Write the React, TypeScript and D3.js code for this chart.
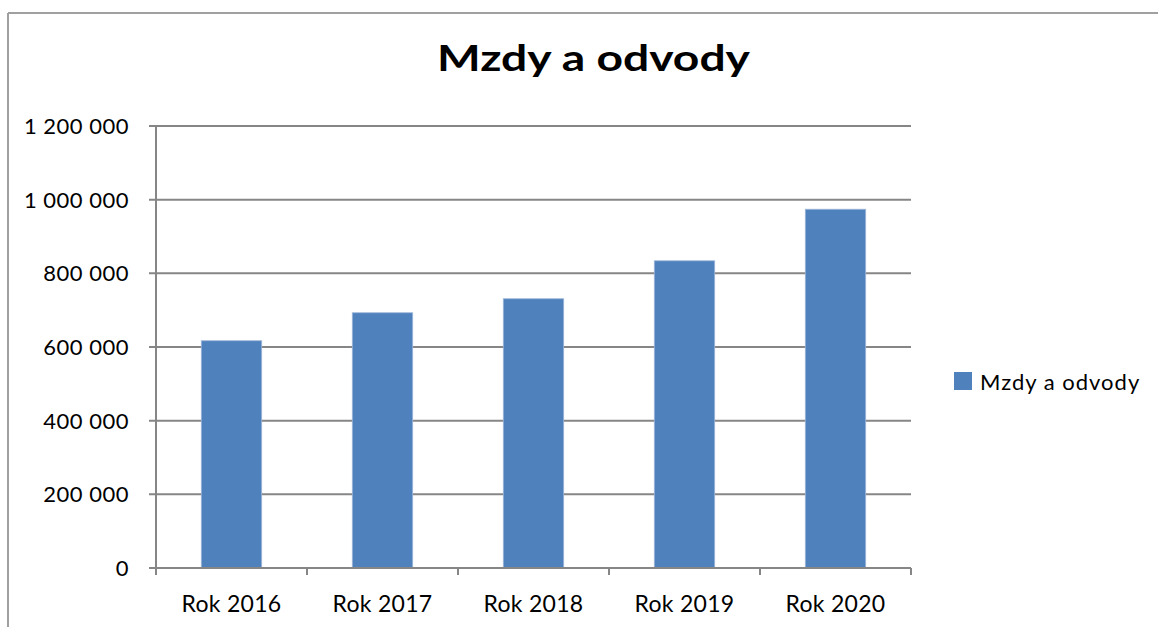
import { scaleBand, scaleLinear, formatLocale } from "d3";

const categories = ["Rok 2016", "Rok 2017", "Rok 2018", "Rok 2019", "Rok 2020"];
const values = [617000, 693000, 731000, 834000, 974000];
const yTicks = [0, 200000, 400000, 600000, 800000, 1000000, 1200000];
const seriesName = "Mzdy a odvody";
const title = "Mzdy a odvody";

const WIDTH = 1158;
const HEIGHT = 627;
const PLOT = { left: 156, right: 911, top: 126, bottom: 568 };
const FONT = "Lato, 'Open Sans', sans-serif";
const BAR = "#4F81BD";
const GRID = "#868686";

const fmt = formatLocale({ decimal: ",", thousands: " ", grouping: [3], currency: ["", ""] }).format(",d");

export default function App() {
  const xScale = scaleBand<string>()
    .domain(categories)
    .range([PLOT.left, PLOT.right])
    .paddingInner(0.6)
    .paddingOuter(0.3);
  const yScale = scaleLinear().domain([0, 1200000]).range([PLOT.bottom, PLOT.top]);
  const step = (PLOT.right - PLOT.left) / categories.length;

  return (
    <svg
      width={WIDTH}
      height={HEIGHT}
      style={{ position: "absolute", left: 0, top: 0, display: "block", background: "#fff" }}
      fontFamily={FONT}
    >
      {/* chart frame, only top and left edge visible */}
      <line x1={8} x2={WIDTH} y1={13} y2={13} stroke="#a0a0a0" strokeWidth={2} />
      <line x1={8} x2={8} y1={13} y2={HEIGHT} stroke="#a0a0a0" strokeWidth={2} />

      {/* the original is stretched a bit wider, so the title is too */}
      <text
        x={593.5 - 313 / 2}
        y={71}
        fontSize={37}
        fontWeight={700}
        fill="#000"
        textLength={313}
        lengthAdjust="spacingAndGlyphs"
      >
        {title}
      </text>

      {/* gridlines + y labels */}
      {yTicks.map((t) => (
        <g key={t}>
          <line x1={PLOT.left - 7} x2={PLOT.right} y1={yScale(t)} y2={yScale(t)} stroke={GRID} strokeWidth={2} />
          <text x={129} y={yScale(t)} dy="0.36em" textAnchor="end" fontSize={22} letterSpacing={0.5} fill="#000">
            {fmt(t)}
          </text>
        </g>
      ))}

      {/* bars */}
      {categories.map((c, i) => (
        <rect
          key={c}
          x={xScale(c)}
          y={yScale(values[i])}
          width={xScale.bandwidth()}
          height={yScale(0) - yScale(values[i])}
          fill={BAR}
          stroke="#9cb6da"
          strokeWidth={0.8}
        />
      ))}

      {/* axes */}
      <line x1={PLOT.left} x2={PLOT.left} y1={PLOT.top} y2={PLOT.bottom + 7} stroke={GRID} strokeWidth={2} />
      <line x1={PLOT.left} x2={PLOT.right} y1={PLOT.bottom} y2={PLOT.bottom} stroke={GRID} strokeWidth={2} />
      {categories.map((c, i) => (
        <line
          key={"t" + c}
          x1={PLOT.left + step * (i + 1)}
          x2={PLOT.left + step * (i + 1)}
          y1={PLOT.bottom}
          y2={PLOT.bottom + 7}
          stroke={GRID}
          strokeWidth={2}
        />
      ))}
      {categories.map((c) => (
        <text
          key={"l" + c}
          x={(xScale(c) ?? 0) + xScale.bandwidth() / 2}
          y={612}
          textAnchor="middle"
          fontSize={23}
          letterSpacing={0.3}
          fill="#000"
        >
          {c}
        </text>
      ))}

      {/* legend */}
      <rect x={954} y={372} width={18} height={18} fill={BAR} />
      <text x={980} y={390} fontSize={22} letterSpacing={1} fill="#000">
        {seriesName}
      </text>
    </svg>
  );
}
